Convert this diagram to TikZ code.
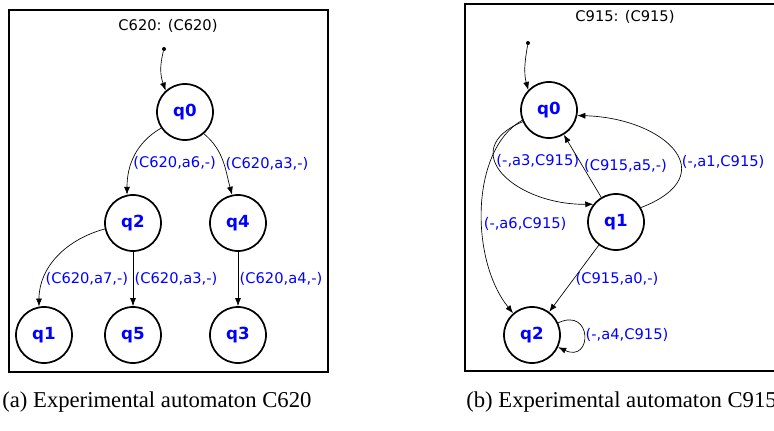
\documentclass[tikz,border=0pt]{standalone}
\usepackage{fontspec}
\setmainfont{Liberation Serif}
\newfontfamily\graphfont{DejaVu Sans}
\usepackage{tikz}
\usetikzlibrary{arrows.meta,positioning}

\begin{document}
\begin{tikzpicture}[x=0.75pt,y=0.75pt,->,>={Latex[length=6pt,width=4.5pt]},on grid,line width=0.5pt,
  main node/.style={circle,draw,line width=1.3pt,minimum size=42pt,inner sep=0pt,
    text=blue,font=\graphfont\fontsize{12.5}{14}\selectfont\bfseries},
  edge label/.style={text=blue,font=\graphfont\fontsize{11}{13}\selectfont,inner sep=1pt},
  title label/.style={font=\graphfont\fontsize{11}{13}\selectfont},
  caption label/.style={anchor=west,inner sep=0pt,font=\fontsize{17}{20}\selectfont},
  frame/.style={-,draw,line width=2pt},
  start dot/.style={circle,fill,inner sep=0pt,minimum size=3pt}]
  \useasboundingbox (0,0) rectangle (774,-431);

  % automaton C620
  \draw[frame] (9,-10) rectangle (328,-372);
  \node[title label] (t620) at (168,-26) {C620: (C620)};
  \node[start dot] (d620) at (164,-49) {};
  \node[main node] (q0) at (185,-112) {q0};
  \node[main node,below left=83.25pt and 39pt of q0] (q2) {q2};
  \node[main node,below right=83.25pt and 39.75pt of q0] (q4) {q4};
  \node[main node,below left=84pt and 66.75pt of q2] (q1) {q1};
  \node[main node,below=84pt of q2] (q5) {q5};
  \node[main node,below=84pt of q4] (q3) {q3};
  \draw (d620) to[out=-105,in=110] (q0.132);
  \draw (q0.214) to[out=210,in=90] node[edge label,right,pos=.6] {(C620,a6,-)} (q2.102);
  \draw (q0.-49) to[out=-40,in=105] node[edge label,right,pos=.55] {(C620,a3,-)} (q4.102);
  \draw (q2.192) to[out=195,in=90] node[edge label,right,pos=.75] {(C620,a7,-)} (q1.100);
  \draw (q2) -- node[edge label,right] {(C620,a3,-)} (q5);
  \draw (q4) -- node[edge label,right] {(C620,a4,-)} (q3);
  \node[caption label] (capa) at (2,-402) {(a) Experimental automaton C620};

  % automaton C915
  \draw[frame] (465,-4) rectangle (800,-371);
  \node[title label] (t915) at (625,-17) {C915: (C915)};
  \node[start dot] (d915) at (528,-43) {};
  \node[main node] (s0) at (549,-110) {q0};
  \node[main node,below right=84pt and 50.25pt of s0] (s1) {q1};
  \node[main node,below left=168.75pt and 12.75pt of s0] (s2) {q2};
  \draw (d915) to[out=-100,in=105] (s0.136);
  \draw (s0.204) .. controls (455,-150) and (515,-205) .. node[edge label,pos=.38,anchor=west] {(-,a3,C915)} (s1.142);
  \draw (s1) -- node[edge label,right] {(C915,a5,-)} (s0);
  \draw (s1.30) .. controls (725,-175) and (665,-118) .. node[edge label,pos=.4,right] {(-,a1,C915)} (s0.-11);
  \draw (s0.201) .. controls (470,-150) and (470,-260) .. node[edge label,pos=.57,right] {(-,a6,C915)} (s2.131);
  \draw (s1) -- node[edge label,right] {(C915,a0,-)} (s2);
  \draw (s2.25) to[out=25,in=-25,looseness=4] node[edge label,right] {(-,a4,C915)} (s2.-25);
  \node[caption label] (capb) at (466,-402) {(b) Experimental automaton C915};
\end{tikzpicture}
\end{document}
